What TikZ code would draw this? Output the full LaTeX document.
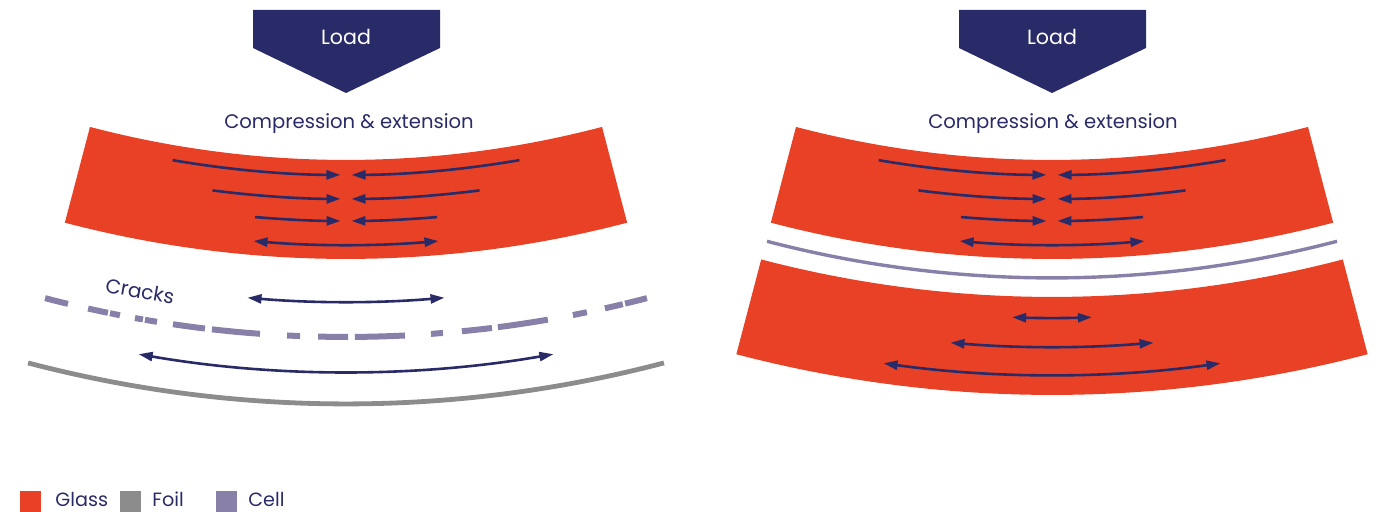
\documentclass[tikz,border=0pt]{standalone}
\usepackage{fontspec}
\setmainfont{Poppins}
\usepackage{xcolor}
\usetikzlibrary{arrows.meta}

\definecolor{glassred}{RGB}{232,65,37}
\definecolor{loadnavy}{RGB}{41,42,104}
\definecolor{celllilac}{RGB}{137,128,170}
\definecolor{foilgrey}{RGB}{140,140,140}

\begin{document}
\begin{tikzpicture}[
 x=0.5pt, y=0.5pt,
 glass/.style={fill=glassred},
 loadbox/.style={fill=loadnavy},
 loadtext/.style={text=white, font=\fontsize{10.3}{12}\selectfont},
 caption/.style={text=loadnavy, font=\fontsize{9.8}{11}\selectfont},
 stress/.style={draw=loadnavy, line width=1.3pt, -{Triangle[length=7pt,width=4.5pt]}},
 stressboth/.style={stress, {Triangle[length=7pt,width=4.5pt]}-{Triangle[length=7pt,width=4.5pt]}},
 crack/.style={draw=celllilac, line width=3pt},
 foil/.style={draw=foilgrey, line width=2.4pt},
 cell/.style={draw=celllilac, line width=1.7pt},
 keybox/.style={minimum size=10.5pt, inner sep=0pt, anchor=south west},
 keytext/.style={text=loadnavy, anchor=base west, inner sep=0pt, font=\fontsize{9.6}{11}\selectfont}
 ]
 \useasboundingbox (0,0) rectangle (1379,512);

 % Load, left
 \fill[loadbox] (253,502) -- (440,502) -- (440,464) -- (346,419) -- (253,464) -- cycle;
 \node[loadtext] (load1) at (346,475) {Load};
 \node[caption] (caption1) at (349,388) {Compression \& extension};

 % Load, right
 \fill[loadbox] (959,502) -- (1146,502) -- (1146,464) -- (1052,419) -- (959,464) -- cycle;
 \node[loadtext] (load2) at (1052,475) {Load};
 \node[caption] (caption2) at (1053,388) {Compression \& extension};

 % Left panel: glass on foil, cracked cell
 \begin{scope}[shift={(346,1361)}]
 \fill[glass] (255.3:1009) arc[start angle=255.3, end angle=284.7, radius=1009]
 -- (284.7:1108) arc[start angle=284.7, end angle=255.3, radius=1108] -- cycle;
 \draw[stress] (260.25:1024) arc[start angle=260.25, end angle=269.69, radius=1024];
 \draw[stress] (279.75:1024) arc[start angle=279.75, end angle=270.31, radius=1024];
 \draw[stress] (262.68:1048) arc[start angle=262.68, end angle=269.7, radius=1048];
 \draw[stress] (277.32:1048) arc[start angle=277.32, end angle=270.3, radius=1048];
 \draw[stress] (265.12:1070) arc[start angle=265.12, end angle=269.71, radius=1070];
 \draw[stress] (274.88:1070) arc[start angle=274.88, end angle=270.29, radius=1070];
 \draw[stressboth] (265.15:1094) arc[start angle=265.15, end angle=274.85, radius=1094];
 % cracks
 \foreach \a/\b in {255.3/256.44, 257.44/258.42, 258.52/259.01, 259.75/260.14,
 260.24/260.83, 261.61/263.17, 263.51/265.84, 267.15/267.78, 268.65/270.1,
 270.43/272.85, 274.11/274.69, 275.61/277.07, 277.36/279.8, 281.03/281.72,
 282.61/283.5, 283.61/284.7}
 \draw[crack] (\a:1186) arc[start angle=\a, end angle=\b, radius=1186];
 \draw[stressboth] (265.09:1151) arc[start angle=265.09, end angle=274.91, radius=1151];
 \draw[stressboth] (260.22:1221) arc[start angle=260.22, end angle=279.78, radius=1221];
 % foil
 \draw[foil] (255.3:1253) arc[start angle=255.3, end angle=284.7, radius=1253];
 \end{scope}
 \node[caption, rotate=-10, font=\fontsize{10}{12}\selectfont] (cracks) at (140,221) {Cracks};

 % Right panel: glass on glass, intact cell
 \begin{scope}[shift={(1052,1361)}]
 \fill[glass] (255.3:1009) arc[start angle=255.3, end angle=284.7, radius=1009]
 -- (284.7:1108) arc[start angle=284.7, end angle=255.3, radius=1108] -- cycle;
 \draw[stress] (260.25:1024) arc[start angle=260.25, end angle=269.69, radius=1024];
 \draw[stress] (279.75:1024) arc[start angle=279.75, end angle=270.31, radius=1024];
 \draw[stress] (262.68:1048) arc[start angle=262.68, end angle=269.7, radius=1048];
 \draw[stress] (277.32:1048) arc[start angle=277.32, end angle=270.3, radius=1048];
 \draw[stress] (265.12:1070) arc[start angle=265.12, end angle=269.71, radius=1070];
 \draw[stress] (274.88:1070) arc[start angle=274.88, end angle=270.29, radius=1070];
 \draw[stressboth] (265.15:1094) arc[start angle=265.15, end angle=274.85, radius=1094];
 % cell
 \draw[cell] (255.35:1127) arc[start angle=255.35, end angle=284.65, radius=1127];
 % lower glass
 \fill[glass] (255.3:1146) arc[start angle=255.3, end angle=284.7, radius=1146]
 -- (284.7:1244) arc[start angle=284.7, end angle=255.3, radius=1244] -- cycle;
 \draw[stressboth] (268.04:1167) arc[start angle=268.04, end angle=271.96, radius=1167];
 \draw[stressboth] (265.13:1196) arc[start angle=265.13, end angle=274.87, radius=1196];
 \draw[stressboth] (262.09:1224) arc[start angle=262.09, end angle=277.91, radius=1224];
 \end{scope}

 % Legend
 \node[keybox, fill=glassred] (kglass) at (20,0) {};
 \node[keytext] (tglass) at (55,5) {Glass};
 \node[keybox, fill=foilgrey] (kfoil) at (120,0) {};
 \node[keytext] (tfoil) at (152,5) {Foil};
 \node[keybox, fill=celllilac] (kcell) at (216,0) {};
 \node[keytext] (tcell) at (248,5) {Cell};
\end{tikzpicture}
\end{document}
